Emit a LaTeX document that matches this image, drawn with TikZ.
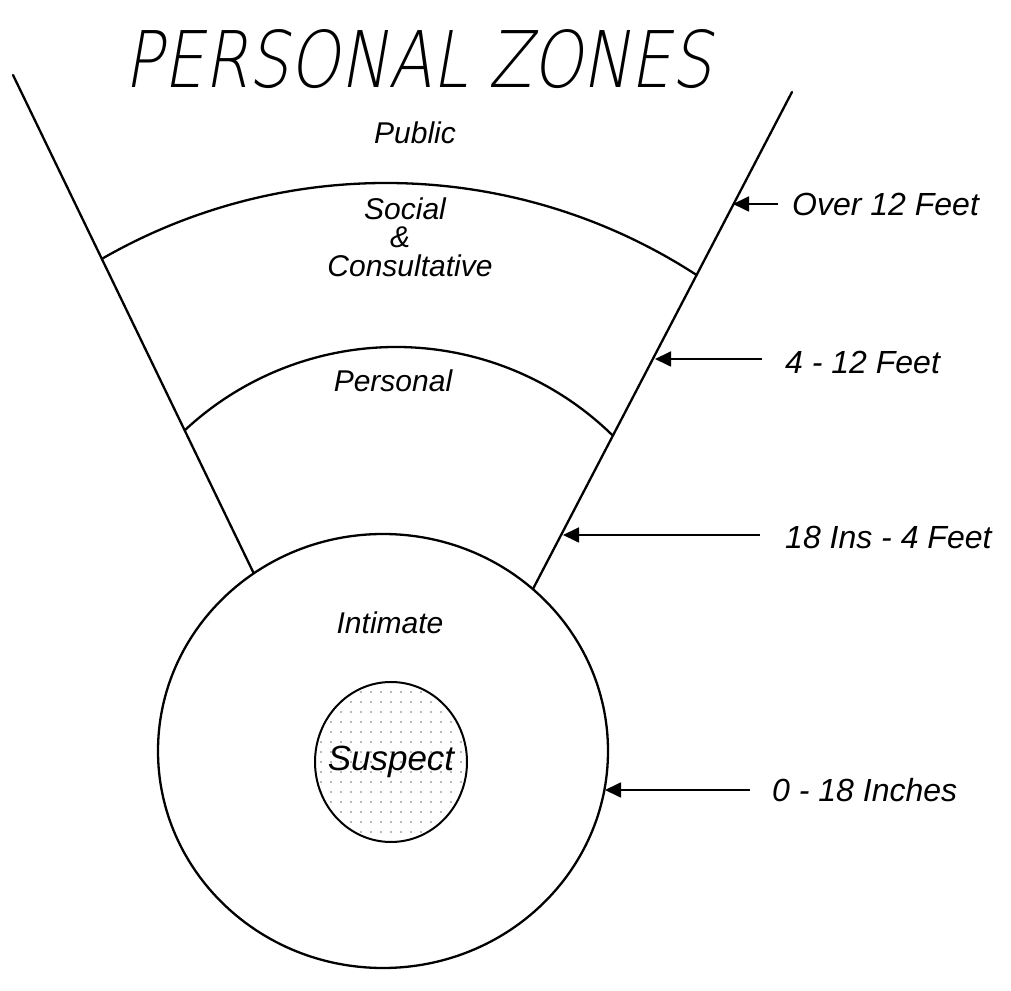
\documentclass[tikz,border=0pt]{standalone}
\usepackage{fontspec}
\setmainfont{Liberation Sans}
\newfontfamily\titlefont{DejaVu Sans ExtraLight}[FakeSlant=0.21]
\usetikzlibrary{arrows.meta}
\begin{document}
\begin{tikzpicture}[x=1pt,y=1pt,
  edge/.style={line width=2.3pt, line cap=round},
  zone/.style={font=\fontsize{30}{36}\selectfont\itshape, inner sep=0pt},
  dist/.style={font=\fontsize{32}{38}\selectfont\itshape, anchor=west, inner sep=0pt},
  pointer/.style={line width=1.8pt, -{Triangle[length=16pt,width=15pt]}}]
\useasboundingbox (0,0) rectangle (1011,990);
% key points
\coordinate (LT) at (13,915);
\coordinate (LB) at (270,383);
\coordinate (RT) at (792,898);
\coordinate (RB) at (522,380);
\coordinate (C1) at (386,237);
\coordinate (C2) at (396,333.5);
\coordinate (CB) at (383,239);
\coordinate (CS) at (391,228);
% title
\node[inner sep=0pt] (title) at (418.5,931) {\resizebox{587pt}{58pt}{\titlefont PERSONAL ZONES}};
% zone boundaries
\begin{scope}
  \clip (LT) -- (LB) -- (RB) -- (RT) -- cycle;
  \draw[edge] ([shift={(124:570)}]C1) arc[start angle=124,end angle=53,radius=570];
  \draw[edge] ([shift={(138:309.5)}]C2) arc[start angle=138,end angle=42,radius=309.5];
\end{scope}
\draw[edge] (LT) -- (LB);
\draw[edge] (RT) -- (RB);
\filldraw[edge, fill=white] (CB) ellipse[x radius=225, y radius=217];
% suspect circle with dots
\begin{scope}
  \clip (CS) ellipse[x radius=76, y radius=80];
  \foreach \i in {-8,...,8} {
    \foreach \j in {-8,...,8} {
      \fill[black!55] ({391+10*\i},{228+10*\j}) circle[radius=0.8];
    }
  }
\end{scope}
\draw[line width=2pt] (CS) ellipse[x radius=76, y radius=80];
% zone labels
\node[zone] (public) at (415,857) {Public};
\node[zone] (social) at (405,781) {Social};
\node[zone] (amp) at (400,753) {\&};
\node[zone] (consult) at (410,724) {Consultative};
\node[zone] (personal) at (393,609) {Personal};
\node[zone] (intimate) at (390,367) {Intimate};
\node[zone, font=\fontsize{35}{42}\selectfont\itshape] (suspect) at (391,228) {Suspect};
% distance labels and pointers
\node[dist] (d1) at (792,786) {Over 12 Feet};
\node[dist] (d2) at (785,628) {4 - 12 Feet};
\node[dist] (d3) at (785,453) {18 Ins - 4 Feet};
\node[dist] (d4) at (772,200) {0 - 18 Inches};
\coordinate (t1) at (733,786);
\coordinate (t2) at (655,631);
\coordinate (t3) at (563,455);
\coordinate (t4) at (605,200);
\draw[pointer] ([xshift=-14pt]d1.west) -- (t1);
\draw[pointer] ([xshift=-23pt,yshift=3pt]d2.west) -- (t2);
\draw[pointer] ([xshift=-25pt,yshift=2pt]d3.west) -- (t3);
\draw[pointer] ([xshift=-22pt]d4.west) -- (t4);
\end{tikzpicture}
\end{document}
